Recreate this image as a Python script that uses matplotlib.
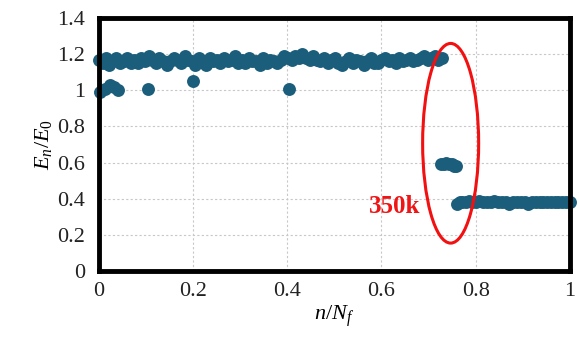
import matplotlib
matplotlib.use("Agg")
import matplotlib.pyplot as plt
from matplotlib.patches import Ellipse
from matplotlib.ticker import FuncFormatter, MultipleLocator

plt.rcParams['font.family'] = ['Liberation Serif', 'DejaVu Serif']
plt.rcParams['mathtext.fontset'] = 'custom'
plt.rcParams['mathtext.rm'] = 'Liberation Serif'
plt.rcParams['mathtext.it'] = 'Liberation Serif:italic'

# stiffness ratio before the drop (main band)
up_x = [0.000, 0.008, 0.015, 0.022, 0.030, 0.037, 0.045, 0.053, 0.060, 0.068,
        0.075, 0.083, 0.090, 0.098, 0.106, 0.113, 0.121, 0.128, 0.136, 0.144,
        0.151, 0.159, 0.166, 0.174, 0.182, 0.189, 0.197, 0.204, 0.212, 0.220,
        0.227, 0.235, 0.242, 0.250, 0.258, 0.265, 0.273, 0.280, 0.288, 0.296,
        0.303, 0.311, 0.318, 0.326, 0.334, 0.341, 0.349, 0.356, 0.364, 0.372,
        0.379, 0.387, 0.394, 0.402, 0.410, 0.417, 0.425, 0.432, 0.440, 0.448,
        0.455, 0.463, 0.470, 0.478, 0.486, 0.493, 0.501, 0.508, 0.516, 0.524,
        0.531, 0.539, 0.546, 0.554, 0.562, 0.569, 0.577, 0.584, 0.592, 0.600,
        0.607, 0.615, 0.622, 0.630, 0.638, 0.645, 0.653, 0.660, 0.668, 0.676,
        0.683, 0.691, 0.698, 0.706, 0.714, 0.721, 0.728]
up_y = [1.17, 1.15, 1.18, 1.14, 1.16, 1.18, 1.15, 1.16, 1.18, 1.15,
        1.17, 1.15, 1.18, 1.16, 1.19, 1.17, 1.15, 1.18, 1.16, 1.14,
        1.16, 1.18, 1.17, 1.15, 1.19, 1.17, 1.16, 1.14, 1.18, 1.16,
        1.14, 1.18, 1.16, 1.17, 1.15, 1.18, 1.16, 1.17, 1.19, 1.15,
        1.17, 1.15, 1.18, 1.16, 1.16, 1.14, 1.18, 1.15, 1.17, 1.16,
        1.15, 1.17, 1.19, 1.18, 1.17, 1.19, 1.18, 1.20, 1.18, 1.17,
        1.19, 1.17, 1.16, 1.18, 1.15, 1.17, 1.18, 1.15, 1.14, 1.16,
        1.18, 1.15, 1.17, 1.16, 1.14, 1.16, 1.18, 1.15, 1.15, 1.17,
        1.18, 1.16, 1.17, 1.15, 1.18, 1.16, 1.17, 1.18, 1.16, 1.17,
        1.18, 1.19, 1.17, 1.18, 1.19, 1.17, 1.18]

# scattered readings near 1.0
low_x = [0.002, 0.012, 0.023, 0.032, 0.040, 0.104, 0.200, 0.403]
low_y = [0.99, 1.01, 1.03, 1.02, 1.00, 1.01, 1.05, 1.01]

# intermediate step around 350k cycles
mid_x = [0.727, 0.733, 0.738, 0.744, 0.750, 0.755, 0.758]
mid_y = [0.59, 0.59, 0.60, 0.59, 0.59, 0.58, 0.58]

# after the drop
end_x = [0.760, 0.766, 0.772, 0.779, 0.786, 0.793, 0.800, 0.808, 0.816, 0.824,
         0.832, 0.840, 0.848, 0.856, 0.864, 0.872, 0.880, 0.888, 0.896, 0.904,
         0.912, 0.920, 0.928, 0.936, 0.944, 0.952, 0.960, 0.968, 0.976, 0.984,
         0.992, 1.000]
end_y = [0.37, 0.38, 0.38, 0.38, 0.39, 0.38, 0.38, 0.39, 0.38, 0.38,
         0.38, 0.39, 0.38, 0.38, 0.38, 0.37, 0.38, 0.38, 0.38, 0.38,
         0.37, 0.38, 0.38, 0.38, 0.38, 0.38, 0.38, 0.38, 0.38, 0.38,
         0.38, 0.38]

col = '#1a5e7c'

fig = plt.figure(figsize=(5.79, 3.47), dpi=100)
ax = fig.add_axes([0.171, 0.219, 0.813, 0.729])

for xs, ys in [(up_x, up_y), (low_x, low_y), (mid_x, mid_y), (end_x, end_y)]:
    ax.plot(xs, ys, 'o', color=col, markersize=9.3, markeredgewidth=0,
            clip_on=False, zorder=2)

ax.add_patch(Ellipse((0.747, 0.707), 0.119, 1.105, fill=False,
                     edgecolor='#f21010', linewidth=2.2, zorder=3))
ax.text(0.628, 0.357, '350k', color='#f01414', fontsize=18,
        fontweight='bold', ha='center', va='center')

ax.set_xlim(0, 1)
ax.set_ylim(0, 1.4)
ax.xaxis.set_major_locator(MultipleLocator(0.2))
ax.yaxis.set_major_locator(MultipleLocator(0.2))
fmt = FuncFormatter(lambda v, _: f'{round(v, 2):g}')
ax.xaxis.set_major_formatter(fmt)
ax.yaxis.set_major_formatter(fmt)
ax.tick_params(length=0, labelsize=16, colors='#222222')
ax.tick_params(axis='y', pad=10)
ax.tick_params(axis='x', pad=8)

ax.grid(True, color='#c8c8c8', linestyle=(0, (2, 2)), linewidth=0.8)
ax.set_axisbelow(True)
for s in ax.spines.values():
    s.set_linewidth(3.5)
    s.set_color('black')
    s.set_zorder(4)

ax.set_xlabel('$n/N_f$', fontsize=16, labelpad=2)
ax.set_ylabel('$E_n/E_0$', fontsize=16, labelpad=2)

fig.savefig('out.png', dpi=100)
